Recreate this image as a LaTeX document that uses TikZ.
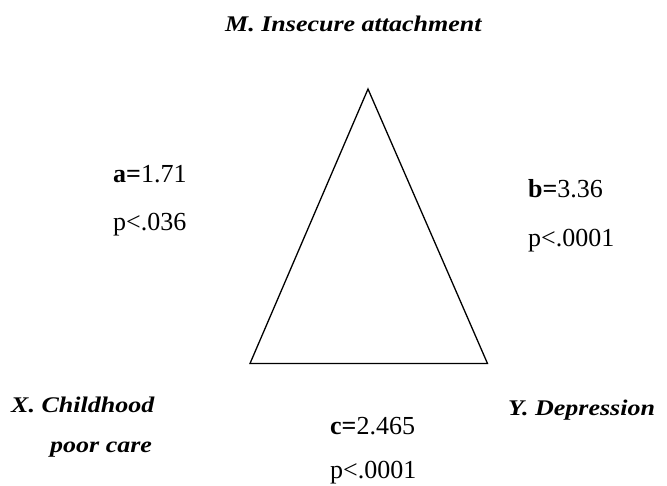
\documentclass[tikz,border=0pt]{standalone}
\usepackage{fontspec}
\setmainfont{Liberation Serif}
\usepackage{graphicx}
\usepackage{tikz}
\newcommand{\squat}[1]{\scalebox{1}[0.86]{#1}}

\begin{document}
\begin{tikzpicture}[
  x=1pt, y=-1pt,
  var/.style={anchor=base west, inner sep=0pt,
              font=\fontsize{26}{30}\selectfont\bfseries\itshape},
  coef/.style={anchor=base west, inner sep=0pt,
               font=\fontsize{26}{30}\selectfont},
  edge/.style={draw=black, line width=1.3pt}]
  \useasboundingbox (0,0) rectangle (667,486);

  % --- the three variables
  \node[var] (mlab) at (225, 32) {\squat{M. Insecure attachment}};
  \node[var] (xlab) at ( 11,413) {\squat{X. Childhood}};
  \node[var] (xsub) at ( 50,452) {\squat{poor care}};
  \node[var] (ylab) at (508,415) {\squat{Y. Depression}};

  % --- the triangle between them
  \coordinate (mv) at (368, 89);
  \coordinate (xv) at (250,363.5);
  \coordinate (yv) at (487.5,363.5);
  \draw[edge] (mv) -- (yv) -- (xv) -- cycle;

  % --- path coefficients
  \node[coef] (acoef) at (113,183) {\textbf{a=}1.71};
  \node[coef] (ap)    at (113,231) {p<.036};
  \node[coef] (bcoef) at (528,198) {\textbf{b=}3.36};
  \node[coef] (bp)    at (528,247) {p<.0001};
  \node[coef] (ccoef) at (330,435) {\textbf{c=}2.465};
  \node[coef] (cp)    at (330,478) {p<.0001};
\end{tikzpicture}
\end{document}
